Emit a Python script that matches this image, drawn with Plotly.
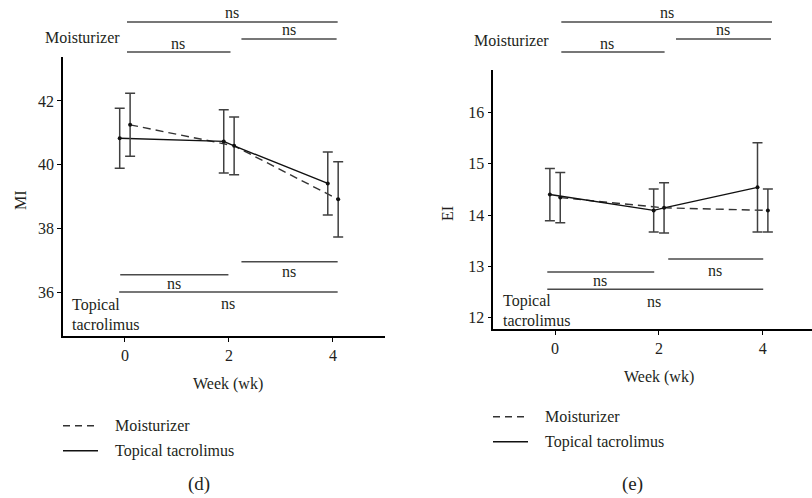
import plotly.graph_objects as go

# ---------------- data ----------------
weeks = [0, 2, 4]
week_ticks = ["0", "2", "4"]

# Panel (d): MI
mi_moist_mean = [41.25, 40.59, 38.91]
mi_moist_sd = [0.99, 0.91, 1.18]
mi_tac_mean = [40.83, 40.73, 39.41]
mi_tac_sd = [0.94, 0.99, 0.99]
mi_ticks = [36, 38, 40, 42]

# Panel (e): EI
ei_moist_mean = [14.34, 14.14, 14.09]
ei_moist_sd = [0.49, 0.49, 0.42]
ei_tac_mean = [14.40, 14.09, 14.54]
ei_tac_sd = [0.51, 0.42, 0.87]
ei_ticks = [12, 13, 14, 15, 16]

sig_label = "ns"
group_names = ["Moisturizer", "Topical tacrolimus"]

# ---------------- style ----------------
FONT = "Liberation Serif, Times New Roman, DejaVu Serif, serif"
TXT = "#231f20"
BAR = "#404040"
W, H = 812, 498
OFF = 0.1  # horizontal dodge of the two groups

def px(xp):
    return xp / W

def py(yp):
    return 1 - yp / H

fig = go.Figure()

def add_panel(xa, ya, moist_mean, moist_sd, tac_mean, tac_sd):
    xm = [w + OFF for w in weeks]
    xt = [w - OFF for w in weeks]
    fig.add_trace(go.Scatter(x=xm, y=moist_mean, mode="lines",
                             line=dict(color="#333333", width=1.4, dash="8px,5px"),
                             xaxis=xa, yaxis=ya, showlegend=False, hoverinfo="skip"))
    sx = [xt[0], xt[1], xm[1], xt[2]]
    sy = [tac_mean[0], tac_mean[1], moist_mean[1], tac_mean[2]]
    fig.add_trace(go.Scatter(x=sx, y=sy, mode="lines",
                             line=dict(color="#111111", width=1.4),
                             xaxis=xa, yaxis=ya, showlegend=False, hoverinfo="skip"))
    for xs, m, s in ((xt, tac_mean, tac_sd), (xm, moist_mean, moist_sd)):
        fig.add_trace(go.Scatter(
            x=xs, y=m, mode="markers",
            marker=dict(color="#111111", size=4),
            error_y=dict(type="data", array=s, visible=True, color=BAR,
                         thickness=1.5, width=5),
            xaxis=xa, yaxis=ya, showlegend=False))

add_panel("x", "y", mi_moist_mean, mi_moist_sd, mi_tac_mean, mi_tac_sd)
add_panel("x2", "y2", ei_moist_mean, ei_moist_sd, ei_tac_mean, ei_tac_sd)

axis_common = dict(showline=True, linecolor="black", linewidth=1.5, ticks="outside",
                   ticklen=4, tickcolor="black", showgrid=False, zeroline=False,
                   tickfont=dict(family=FONT, size=16, color=TXT))

fig.update_layout(
    width=W, height=H, margin=dict(l=0, r=0, t=0, b=0),
    paper_bgcolor="white", plot_bgcolor="white", showlegend=False,
    xaxis=dict(domain=[px(63), px(385)], range=[-1.19, 5.0], tickvals=weeks,
               ticktext=week_ticks, anchor="y", **axis_common),
    yaxis=dict(domain=[py(336), py(57)], range=[34.62, 43.38], tickvals=mi_ticks,
               anchor="x", **axis_common),
    xaxis2=dict(domain=[px(493.3), 1.0], range=[-1.19, 4.95], tickvals=weeks,
                ticktext=week_ticks, anchor="y2", **axis_common),
    yaxis2=dict(domain=[py(329.3), py(70)], range=[11.77, 16.83], tickvals=ei_ticks,
                anchor="x2", **axis_common),
)

LC = "#4a4a4a"
shapes = []
ann = []

def txt(x, y, s, xref="paper", yref="paper", size=16, xanchor="center", yanchor="middle", **kw):
    ann.append(dict(x=x, y=y, text=s, xref=xref, yref=yref, showarrow=False,
                    xanchor=xanchor, yanchor=yanchor,
                    font=dict(family=FONT, size=size, color=TXT), **kw))

def hline_top(xref, x0, x1, yp):
    shapes.append(dict(type="line", xref=xref, yref="paper", x0=x0, x1=x1,
                       y0=py(yp), y1=py(yp), line=dict(color=LC, width=1.5)))

def hline_in(xref, yref, x0, x1, y):
    shapes.append(dict(type="line", xref=xref, yref=yref, x0=x0, x1=x1,
                       y0=y, y1=y, line=dict(color=LC, width=1.5)))

# ---- panel (d) significance ----
hline_top("x", 0.04, 4.09, 22); txt(2.06, py(13), sig_label, xref="x")
hline_top("x", 2.24, 4.07, 39); txt(3.15, py(30), sig_label, xref="x")
hline_top("x", 0.04, 2.03, 52); txt(1.02, py(44), sig_label, xref="x")
txt(px(122), py(37), group_names[0], xanchor="right")

hline_in("x", "y", 2.24, 4.09, 36.95); txt(3.15, 36.64, sig_label, xref="x", yref="y")
hline_in("x", "y", -0.09, 1.99, 36.54); txt(0.95, 36.28, sig_label, xref="x", yref="y")
hline_in("x", "y", -0.11, 4.09, 36.0); txt(1.99, 35.65, sig_label, xref="x", yref="y")
txt(px(70), py(305), "Topical", xanchor="left")
txt(px(70), py(324), "tacrolimus", xanchor="left")

# ---- panel (e) significance ----
hline_top("x2", 0.12, 4.18, 22); txt(2.15, py(13), sig_label, xref="x2")
hline_top("x2", 2.33, 4.16, 39); txt(3.24, py(30), sig_label, xref="x2")
hline_top("x2", 0.12, 2.11, 52); txt(1.0, py(44), sig_label, xref="x2")
txt(px(551), py(40), group_names[0], xanchor="right")

hline_in("x2", "y2", 2.18, 4.01, 13.14); txt(3.08, 12.92, sig_label, xref="x2", yref="y2")
hline_in("x2", "y2", -0.15, 1.91, 12.89); txt(0.87, 12.72, sig_label, xref="x2", yref="y2")
hline_in("x2", "y2", -0.15, 4.01, 12.55); txt(1.91, 12.32, sig_label, xref="x2", yref="y2")
txt(px(501), py(301), "Topical", xanchor="left")
txt(px(501), py(320), "tacrolimus", xanchor="left")

# ---- axis titles ----
txt(px(20), py(200), "MI", textangle=-90)
txt(px(447), py(214), "EI", textangle=-90)
txt(px(228), py(384), "Week (wk)")
txt(px(659), py(377), "Week (wk)")

# ---- legends ----
for (lx0, lx1, tx, y1, y2) in ((63, 98, 113, 425.7, 450.7), (493, 528, 543, 416.7, 441.7)):
    shapes.append(dict(type="line", xref="paper", yref="paper", x0=px(lx0), x1=px(lx1),
                       y0=py(y1), y1=py(y1), line=dict(color="#333333", width=1.4, dash="7px,5px")))
    shapes.append(dict(type="line", xref="paper", yref="paper", x0=px(lx0), x1=px(lx1),
                       y0=py(y2), y1=py(y2), line=dict(color="#111111", width=1.4)))
    txt(px(tx), py(y1), group_names[0], xanchor="left")
    txt(px(tx), py(y2), group_names[1], xanchor="left")

txt(px(199), py(484), "(d)", size=19)
txt(px(632), py(484), "(e)", size=19)

fig.update_layout(shapes=shapes, annotations=ann)
fig.write_html("out.html", config={"displayModeBar": False},
               post_script="document.body.style.margin='0';document.body.style.overflow='hidden';")
